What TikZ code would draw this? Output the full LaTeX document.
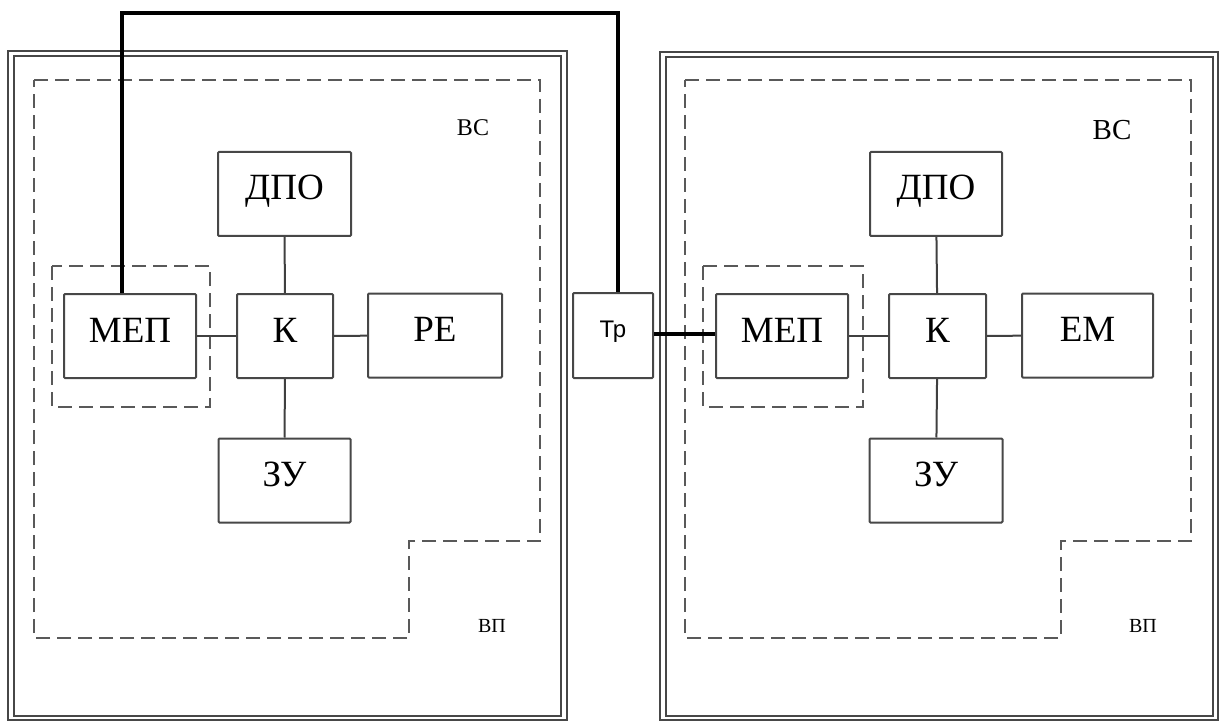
\documentclass[tikz,border=0pt]{standalone}
\usepackage{fontspec}
\setmainfont{Liberation Serif}
\newfontfamily\trfont{Liberation Sans}
\begin{document}
\begin{tikzpicture}[x=1pt,y=-1pt,
  blk/.style={draw=black!72,line width=2pt,rounded corners=1pt,minimum height=84pt,
    inner sep=0pt,font=\fontsize{37}{37}\selectfont,text height=26pt,text depth=14pt},
  frm/.style={draw=black!72,line width=2.2pt},
  dsh/.style={draw=black!65,line width=2.2pt,dash pattern=on 14pt off 7pt},
  lnk/.style={draw=black!75,line width=2pt},
  wire/.style={draw=black,line width=3.2pt}]
\useasboundingbox (0,0) rectangle (1221,722);
% frames
\draw[frm] (8,51) rectangle (567,720);
\draw[frm] (14,56) rectangle (561,716);
\draw[frm] (660,52) rectangle (1218,720);
\draw[frm] (666,57) rectangle (1213,716);
% dashed regions
\draw[dsh] (34,80) -- (540,80) -- (540,541) -- (409,541) -- (409,638) -- (34,638) -- cycle;
\draw[dsh] (685,80) -- (1191,80) -- (1191,541) -- (1061,541) -- (1061,638) -- (685,638) -- cycle;
\draw[dsh] (52,266) rectangle (210,407);
\draw[dsh] (703,266) rectangle (863,407);
% left blocks
\node[blk,minimum width=133pt] (dpo1) at (284.5,194) {ДПО};
\node[blk,minimum width=132pt] (mep1) at (130,336) {МЕП};
\node[blk,minimum width=96pt] (k1) at (285,336) {К};
\node[blk,minimum width=134pt] (re1) at (435,335.5) {РЕ};
\node[blk,minimum width=132pt] (zu1) at (284.5,480.5) {ЗУ};
% right blocks
\node[blk,minimum width=132pt] (dpo2) at (936,194) {ДПО};
\node[blk,minimum width=132pt] (mep2) at (782,336) {МЕП};
\node[blk,minimum width=97pt] (k2) at (937.5,336) {К};
\node[blk,minimum width=131pt] (em2) at (1087.5,335.5) {ЕМ};
\node[blk,minimum width=133pt] (zu2) at (936,480.5) {ЗУ};
% Tr
\node[blk,minimum width=80pt,minimum height=85pt,font=\trfont\fontsize{24}{24}\selectfont,text height=17pt,text depth=14pt] (tr) at (613,335.5) {Тр};
% links
\draw[lnk] (k1) -- (dpo1);
\draw[lnk] (k1) -- (zu1);
\draw[lnk] (mep1) -- (k1);
\draw[lnk] (k1) -- (re1);
\draw[lnk] (k2) -- (dpo2);
\draw[lnk] (k2) -- (zu2);
\draw[lnk] (mep2) -- (k2);
\draw[lnk] (k2) -- (em2);
\draw[wire] (tr.east |- 0,334) -- (mep2.west |- 0,334);
\coordinate (w1) at (122,13);
\coordinate (w2) at (618,13);
\draw[wire] (mep1.north -| w1) -- (w1) -- (w2) -- (tr.north -| w2);
% labels
\node[font=\fontsize{24}{24}\selectfont] (vs1) at (473,128) {ВС};
\node[font=\fontsize{29}{29}\selectfont] (vs2) at (1112,130) {ВС};
\node[font=\fontsize{20}{20}\selectfont] (vp1) at (492,626) {ВП};
\node[font=\fontsize{20}{20}\selectfont] (vp2) at (1143,626) {ВП};
\end{tikzpicture}
\end{document}
